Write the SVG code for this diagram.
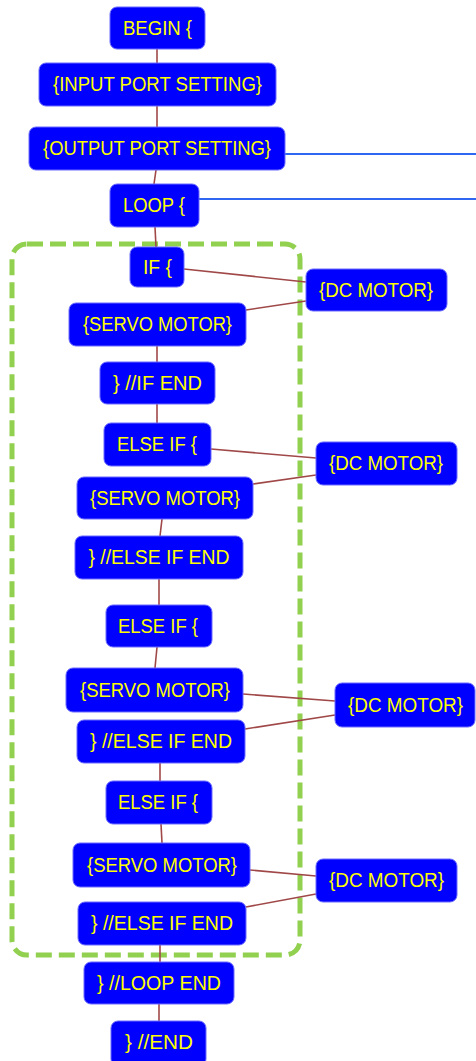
<svg xmlns="http://www.w3.org/2000/svg" width="476" height="1061" viewBox="0 0 476 1061">
<style>
.n rect{fill:#0000ff;stroke:#6a6aff;stroke-width:1}
.n text{fill:#ffff00;font-family:"Liberation Sans",Arial,sans-serif;font-size:20px;text-anchor:middle}
.c line{stroke:#a04848;stroke-width:1.6}
.b line{stroke:#2f66f2;stroke-width:2}
</style>
<rect width="476" height="1061" fill="#ffffff"/>
<rect id="group-box" x="12" y="244" width="288" height="711" rx="15" fill="none" stroke="#92d050" stroke-width="5" stroke-dasharray="16 7"/>
<g id="connectors">
<g class="c">
<line x1="157" y1="49" x2="157" y2="63"/>
<line x1="157" y1="106" x2="157" y2="127"/>
<line x1="156" y1="170" x2="154" y2="184"/>
<line x1="155" y1="227" x2="156" y2="247"/>
<line x1="157" y1="346" x2="157" y2="362"/>
<line x1="157" y1="404" x2="157" y2="423"/>
<line x1="162" y1="519" x2="160" y2="536"/>
<line x1="159" y1="579" x2="159" y2="605"/>
<line x1="157" y1="647" x2="155" y2="668"/>
<line x1="160" y1="763" x2="160" y2="781"/>
<line x1="161" y1="824" x2="162" y2="843"/>
<line x1="160" y1="945" x2="160" y2="962"/>
<line x1="159" y1="1004" x2="159" y2="1021"/>
<line x1="184" y1="269" x2="306" y2="282"/>
<line x1="246" y1="310" x2="306" y2="301"/>
<line x1="211" y1="449" x2="316" y2="458"/>
<line x1="253" y1="484" x2="316" y2="475"/>
<line x1="243" y1="694" x2="335" y2="701"/>
<line x1="245" y1="729" x2="335" y2="715"/>
<line x1="250" y1="870" x2="316" y2="876"/>
<line x1="246" y1="907" x2="316" y2="894"/>
</g>
<g class="b">
<line x1="285" y1="154" x2="476" y2="154"/>
<line x1="199" y1="199" x2="476" y2="199"/>
</g>
</g>
<g id="begin" class="n"><rect x="110" y="7" width="95" height="42" rx="7"/><text x="157.5" y="34.5" textLength="69" lengthAdjust="spacingAndGlyphs">BEGIN {</text></g>
<g id="input" class="n"><rect x="39" y="63" width="237" height="43" rx="7"/><text x="157.5" y="91" textLength="209" lengthAdjust="spacingAndGlyphs">{INPUT PORT SETTING}</text></g>
<g id="output" class="n"><rect x="29" y="127" width="256" height="43" rx="7"/><text x="157" y="155" textLength="228" lengthAdjust="spacingAndGlyphs">{OUTPUT PORT SETTING}</text></g>
<g id="loop" class="n"><rect x="110" y="184" width="89" height="43" rx="7"/><text x="154" y="212" textLength="62" lengthAdjust="spacingAndGlyphs">LOOP {</text></g>
<g id="if" class="n"><rect x="130" y="247" width="54" height="40" rx="7"/><text x="157.5" y="273.5" textLength="29" lengthAdjust="spacingAndGlyphs">IF {</text></g>
<g id="dc1" class="n"><rect x="306" y="269" width="141" height="42" rx="7"/><text x="376" y="296.5" textLength="114" lengthAdjust="spacingAndGlyphs">{DC MOTOR}</text></g>
<g id="servo1" class="n"><rect x="69" y="303" width="177" height="43" rx="7"/><text x="157.5" y="331" textLength="149" lengthAdjust="spacingAndGlyphs">{SERVO MOTOR}</text></g>
<g id="ifend" class="n"><rect x="100" y="362" width="115" height="42" rx="7"/><text x="157.5" y="389.5" textLength="89" lengthAdjust="spacingAndGlyphs">} //IF END</text></g>
<g id="elseif1" class="n"><rect x="104" y="423" width="107" height="43" rx="7"/><text x="157" y="451" textLength="80" lengthAdjust="spacingAndGlyphs">ELSE IF {</text></g>
<g id="dc2" class="n"><rect x="316" y="442" width="141" height="43" rx="7"/><text x="386" y="470" textLength="114" lengthAdjust="spacingAndGlyphs">{DC MOTOR}</text></g>
<g id="servo2" class="n"><rect x="77" y="477" width="176" height="42" rx="7"/><text x="165" y="504.5" textLength="150" lengthAdjust="spacingAndGlyphs">{SERVO MOTOR}</text></g>
<g id="elseifend1" class="n"><rect x="75" y="536" width="168" height="43" rx="7"/><text x="159" y="564" textLength="141" lengthAdjust="spacingAndGlyphs">} //ELSE IF END</text></g>
<g id="elseif2" class="n"><rect x="106" y="605" width="106" height="42" rx="7"/><text x="158" y="632.5" textLength="80" lengthAdjust="spacingAndGlyphs">ELSE IF {</text></g>
<g id="servo3" class="n"><rect x="66" y="668" width="177" height="44" rx="7"/><text x="155" y="696.5" textLength="150" lengthAdjust="spacingAndGlyphs">{SERVO MOTOR}</text></g>
<g id="dc3" class="n"><rect x="335" y="683" width="140" height="44" rx="7"/><text x="405.5" y="711.5" textLength="115" lengthAdjust="spacingAndGlyphs">{DC MOTOR}</text></g>
<g id="elseifend2" class="n"><rect x="77" y="720" width="168" height="43" rx="7"/><text x="161" y="748" textLength="142" lengthAdjust="spacingAndGlyphs">} //ELSE IF END</text></g>
<g id="elseif3" class="n"><rect x="106" y="781" width="106" height="43" rx="7"/><text x="158" y="809" textLength="80" lengthAdjust="spacingAndGlyphs">ELSE IF {</text></g>
<g id="servo4" class="n"><rect x="73" y="843" width="177" height="44" rx="7"/><text x="162" y="871.5" textLength="150" lengthAdjust="spacingAndGlyphs">{SERVO MOTOR}</text></g>
<g id="dc4" class="n"><rect x="316" y="859" width="141" height="43" rx="7"/><text x="386.5" y="887" textLength="115" lengthAdjust="spacingAndGlyphs">{DC MOTOR}</text></g>
<g id="elseifend3" class="n"><rect x="78" y="902" width="168" height="43" rx="7"/><text x="162" y="930" textLength="142" lengthAdjust="spacingAndGlyphs">} //ELSE IF END</text></g>
<g id="loopend" class="n"><rect x="84" y="962" width="150" height="42" rx="7"/><text x="159" y="989.5" textLength="124" lengthAdjust="spacingAndGlyphs">} //LOOP END</text></g>
<g id="end" class="n"><rect x="111" y="1021" width="95" height="45" rx="7"/><text x="159" y="1049" textLength="68" lengthAdjust="spacingAndGlyphs">} //END</text></g>
</svg>
